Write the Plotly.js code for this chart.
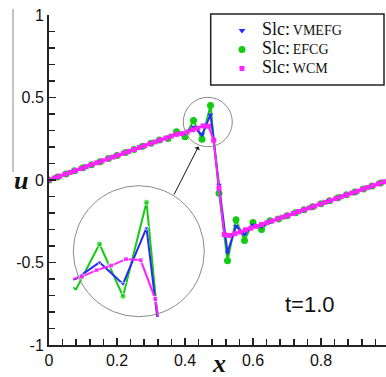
<!DOCTYPE html>
<html>
<head>
<meta charset="utf-8">
<script src="https://cdn.plot.ly/plotly-3.0.1.min.js"></script>
<style>
  html, body { margin: 0; padding: 0; overflow: hidden; background: #fff; }
  #chart { width: 390px; height: 377px; }
</style>
</head>
<body>
<div id="chart"></div>
<script>
// Nodal positions shared by the VMEFG and EFCG solutions (41 nodes)
const nodeX = [0, 0.025, 0.05, 0.075, 0.1, 0.125, 0.15, 0.175, 0.2, 0.225,
  0.25, 0.275, 0.3, 0.325, 0.35, 0.375, 0.4, 0.425, 0.45, 0.475,
  0.5, 0.525, 0.55, 0.575, 0.6, 0.625, 0.65, 0.675, 0.7, 0.725,
  0.75, 0.775, 0.8, 0.825, 0.85, 0.875, 0.9, 0.925, 0.95, 0.975, 1];

// VMEFG solution at t = 1.0
const uVMEFG = [0.000, 0.018, 0.037, 0.055, 0.074, 0.092, 0.111, 0.129, 0.148, 0.166,
  0.185, 0.203, 0.222, 0.240, 0.259, 0.276, 0.285, 0.321, 0.274, 0.396,
  -0.030, -0.440, -0.280, -0.330, -0.272, -0.282, -0.252, -0.234, -0.216, -0.198,
  -0.180, -0.162, -0.144, -0.126, -0.108, -0.090, -0.072, -0.054, -0.036, -0.018, 0.000];

// EFCG solution at t = 1.0
const uEFCG = [0.000, 0.018, 0.037, 0.056, 0.074, 0.093, 0.111, 0.130, 0.148, 0.167,
  0.185, 0.204, 0.222, 0.243, 0.252, 0.293, 0.262, 0.361, 0.247, 0.452,
  -0.080, -0.490, -0.241, -0.366, -0.257, -0.300, -0.247, -0.236, -0.216, -0.198,
  -0.180, -0.162, -0.144, -0.126, -0.108, -0.090, -0.072, -0.054, -0.036, -0.018, 0.000];

// Collocation points of the WCM solution (65 points)
const wcmX = [0, 0.015625, 0.03125, 0.046875, 0.0625, 0.078125, 0.09375, 0.109375,
  0.125, 0.140625, 0.15625, 0.171875, 0.1875, 0.203125, 0.21875, 0.234375,
  0.25, 0.265625, 0.28125, 0.296875, 0.3125, 0.328125, 0.34375, 0.359375,
  0.375, 0.390625, 0.40625, 0.421875, 0.4375, 0.453125, 0.46875, 0.484375,
  0.5, 0.515625, 0.53125, 0.546875, 0.5625, 0.578125, 0.59375, 0.609375,
  0.625, 0.640625, 0.65625, 0.671875, 0.6875, 0.703125, 0.71875, 0.734375,
  0.75, 0.765625, 0.78125, 0.796875, 0.8125, 0.828125, 0.84375, 0.859375,
  0.875, 0.890625, 0.90625, 0.921875, 0.9375, 0.953125, 0.96875, 0.984375, 1];

// WCM solution at t = 1.0
const uWCM = [0.000, 0.012, 0.023, 0.035, 0.046, 0.058, 0.069, 0.081,
  0.093, 0.104, 0.116, 0.127, 0.139, 0.150, 0.162, 0.173,
  0.185, 0.197, 0.208, 0.220, 0.231, 0.243, 0.254, 0.266,
  0.277, 0.281, 0.290, 0.304, 0.314, 0.328, 0.326, 0.241,
  -0.050, -0.331, -0.336, -0.325, -0.315, -0.302, -0.292, -0.281,
  -0.270, -0.259, -0.248, -0.236, -0.225, -0.214, -0.203, -0.191,
  -0.180, -0.169, -0.158, -0.146, -0.135, -0.124, -0.113, -0.101,
  -0.090, -0.079, -0.068, -0.056, -0.045, -0.034, -0.023, -0.011, 0.000];

const xTickVals = [0, 0.2, 0.4, 0.6, 0.8, 1];
const xTickText = ['0', '0.2', '0.4', '0.6', '0.8', '1'];
const yTickVals = [-1, -0.5, 0, 0.5, 1];
const yTickText = ['-1', '-0.5', '0', '0.5', '1'];

const methodNames = ['VMEFG', 'EFCG', 'WCM'];
const legendLabel = m => '<span style="font-size:18px">Slc:</span> <span style="font-size:14px">' + m + '</span>';

// Plot area geometry (pixels) and helpers to place decorations in paper units
const W = 390, H = 377;
const M = {l: 49, r: 1, t: 15, b: 32};
const PX = px => (px - M.l) / (W - M.l - M.r);
const PY = py => (H - M.b - py) / (H - M.t - M.b);

// Magnifier: circular window around the shock front
const lens = {left: 73.3, right: 204.3, top: 185.7, bottom: 316.7,
              xr: [0.3971, 0.5365], yr: [0.2026, 0.488]};
const lensCx = (lens.left + lens.right) / 2, lensCy = (lens.top + lens.bottom) / 2;
const lensR = (lens.right - lens.left) / 2;
// marker sizes inside the lens; points falling outside the circle get no marker
function lensSizes(xs, ys, size) {
  return xs.map((x, i) => {
    const px = lens.left + (x - lens.xr[0]) / (lens.xr[1] - lens.xr[0]) * (lens.right - lens.left);
    const py = lens.bottom - (ys[i] - lens.yr[0]) / (lens.yr[1] - lens.yr[0]) * (lens.bottom - lens.top);
    return Math.hypot(px - lensCx, py - lensCy) <= lensR + 1.5 ? size : 0;
  });
}

const GREEN = '#11cc11', BLUE = '#2a2aff', MAGENTA = '#ff22ff';

function seriesTraces(xa, ya, inLens) {
  const lw = 2;
  const sz = (xs, ys, s) => inLens ? lensSizes(xs, ys, s) : s;
  return [
    {x: nodeX, y: uEFCG, xaxis: xa, yaxis: ya, mode: 'lines+markers', showlegend: false,
     line: {color: GREEN, width: lw}, marker: {color: GREEN, size: sz(nodeX, uEFCG, inLens ? 6 : 7), symbol: 'circle'}},
    {x: nodeX, y: uVMEFG, xaxis: xa, yaxis: ya, mode: 'lines+markers', showlegend: false,
     line: {color: BLUE, width: lw}, marker: {color: BLUE, size: sz(nodeX, uVMEFG, 5), symbol: 'triangle-down'}},
    {x: wcmX, y: uWCM, xaxis: xa, yaxis: ya, mode: 'lines+markers', showlegend: false,
     line: {color: MAGENTA, width: lw}, marker: {color: MAGENTA, size: sz(wcmX, uWCM, 5), symbol: 'square'}}
  ];
}

// Legend entries show the marker symbol only
const legendTraces = [
  {x: [null], y: [null], mode: 'markers', name: legendLabel(methodNames[0]),
   marker: {color: BLUE, size: 6, symbol: 'triangle-down'}},
  {x: [null], y: [null], mode: 'markers', name: legendLabel(methodNames[1]),
   marker: {color: GREEN, size: 7, symbol: 'circle'}},
  {x: [null], y: [null], mode: 'markers', name: legendLabel(methodNames[2]),
   marker: {color: MAGENTA, size: 5, symbol: 'square'}}
];

const data = [].concat(seriesTraces('x', 'y', false), seriesTraces('x2', 'y2', true), legendTraces);

const axisCommon = {
  showline: true, linecolor: '#222', linewidth: 2,
  ticks: 'inside', ticklen: 7, tickwidth: 1.5, tickcolor: '#222',
  showgrid: false, zeroline: false, fixedrange: true,
  tickfont: {family: 'Liberation Sans, Arial, sans-serif', size: 16, color: '#111'}
};

const layout = {
  width: W, height: H,
  margin: M,
  paper_bgcolor: 'rgba(0,0,0,0)',
  plot_bgcolor: 'rgba(0,0,0,0)',
  showlegend: true,
  xaxis: Object.assign({}, axisCommon, {
    range: [0, 1], tickmode: 'array', tickvals: xTickVals, ticktext: xTickText,
    minor: {tickmode: 'linear', tick0: 0, dtick: 0.04, ticks: 'inside', ticklen: 6,
            tickwidth: 1.5, tickcolor: '#222', showgrid: false}
  }),
  yaxis: Object.assign({}, axisCommon, {
    range: [-1, 1], tickmode: 'array', tickvals: yTickVals, ticktext: yTickText,
    minor: {tickmode: 'linear', tick0: 0, dtick: 0.1, ticks: 'inside', ticklen: 6,
            tickwidth: 1.5, tickcolor: '#222', showgrid: false}
  }),
  // magnified view of the region around the shock front
  xaxis2: {domain: [PX(lens.left), PX(lens.right)], anchor: 'y2', range: lens.xr,
           visible: false, fixedrange: true},
  yaxis2: {domain: [PY(lens.bottom), PY(lens.top)], anchor: 'x2', range: lens.yr,
           visible: false, fixedrange: true},
  legend: {
    x: PX(222), y: PY(16), xanchor: 'left', yanchor: 'top',
    bgcolor: 'rgba(0,0,0,0)', borderwidth: 0,
    font: {family: 'Liberation Serif, Times New Roman, serif', size: 11, color: '#111'},
    itemclick: false, itemdoubleclick: false
  },
  shapes: [
    {type: 'rect', xref: 'paper', yref: 'paper', x0: PX(210.7), x1: PX(384), y0: PY(85), y1: PY(14),
     line: {color: '#222', width: 1.5}, fillcolor: '#fff', layer: 'below'},
    {type: 'circle', xref: 'paper', yref: 'paper', x0: PX(183.3), x1: PX(232.3), y0: PY(146.7), y1: PY(97.3),
     line: {color: '#8a8a8a', width: 1}},
    {type: 'circle', xref: 'paper', yref: 'paper', x0: PX(lens.left), x1: PX(lens.right),
     y0: PY(lens.bottom), y1: PY(lens.top), line: {color: '#8a8a8a', width: 1}},
    {type: 'line', xref: 'paper', yref: 'paper', x0: PX(13), x1: PX(13), y0: PY(172), y1: PY(9),
     line: {color: '#8a8a8a', width: 1}}
  ],
  annotations: [
    {xref: 'paper', yref: 'paper', x: PX(198.5), y: PY(146.5), ax: -25.2, ay: 49.5,
     text: '', showarrow: true, arrowhead: 1, arrowsize: 1, arrowwidth: 1, arrowcolor: '#111', standoff: 0},
    {xref: 'paper', yref: 'paper', x: PX(309.5), y: PY(304), text: 't=1.0', showarrow: false,
     xanchor: 'center', yanchor: 'middle',
     font: {family: 'Liberation Sans, Arial, sans-serif', size: 22, color: '#111'}},
    {xref: 'paper', yref: 'paper', x: PX(21), y: PY(180), text: '<b><i>u</i></b>', showarrow: false,
     xanchor: 'center', yanchor: 'middle',
     font: {family: 'Liberation Serif, Times New Roman, serif', size: 26, color: '#111'}},
    {xref: 'paper', yref: 'paper', x: PX(219), y: PY(380), text: '<b><i>x</i></b>', showarrow: false,
     xanchor: 'center', yanchor: 'bottom',
     font: {family: 'Liberation Serif, Times New Roman, serif', size: 26, color: '#111'}}
  ]
};

Plotly.newPlot('chart', data, layout, {displayModeBar: false, staticPlot: true});
</script>
</body>
</html>
